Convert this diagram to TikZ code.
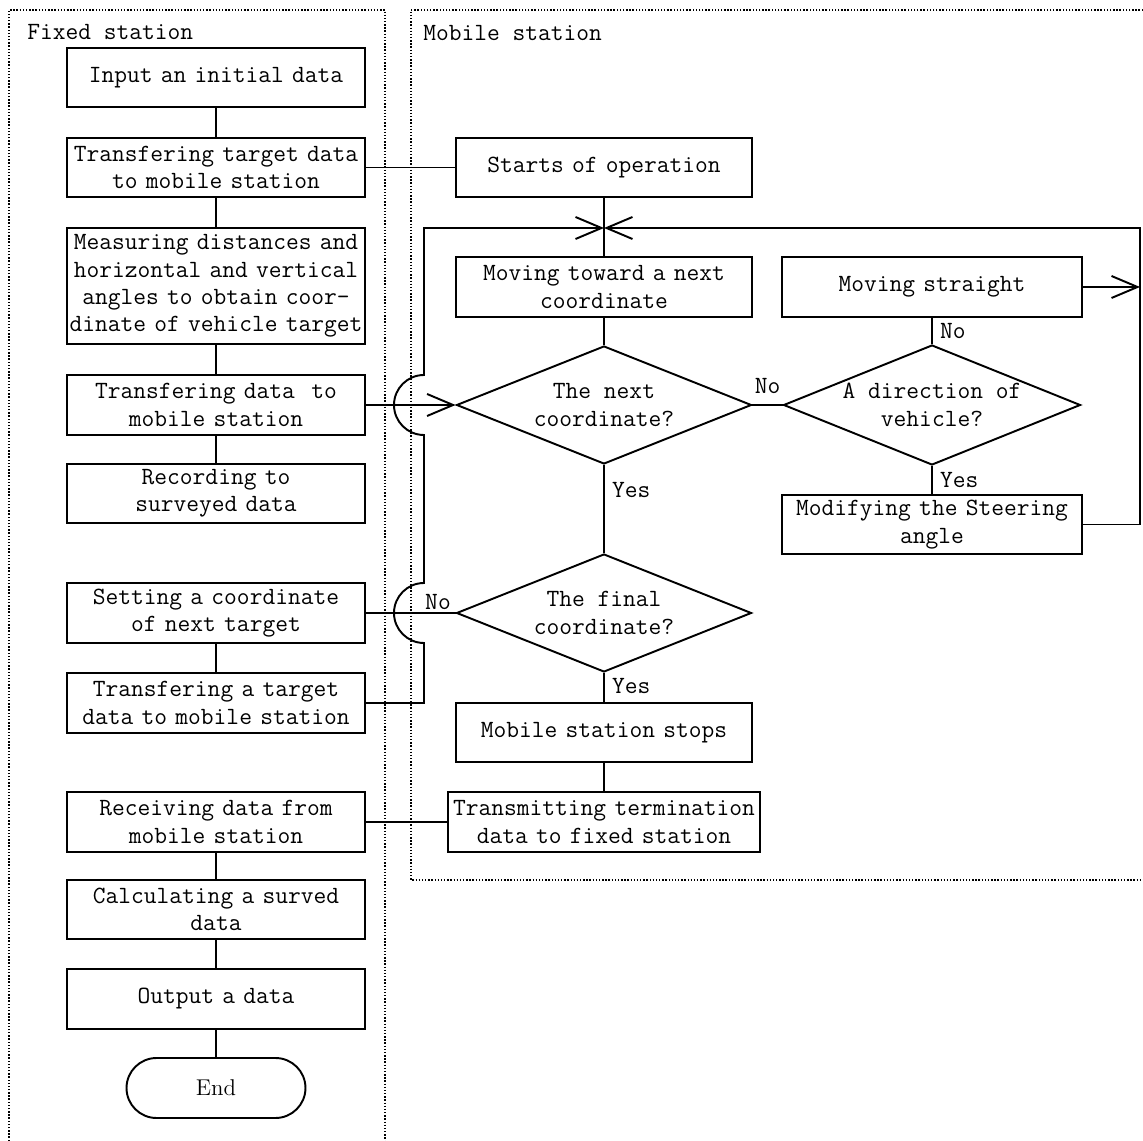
\documentclass[tikz,border=0pt]{standalone}
\usetikzlibrary{shapes.geometric,arrows.meta}
\newcommand{\flowfont}{\fontsize{14.1}{15.6}\selectfont\ttfamily}
\tikzset{
  stepbox/.style={draw, line width=1.1pt, rectangle, text width=5.96cm, minimum height=1.19cm,
    inner sep=0pt, align=center, font=\flowfont},
  decision/.style={draw, line width=1.1pt, diamond, aspect=2.5, minimum width=5.9cm,
    minimum height=2.36cm, inner sep=0pt, align=center, font=\flowfont},
  terminal/.style={draw, line width=1.1pt, rectangle, rounded corners=0.6cm, minimum width=3.58cm,
    minimum height=1.2cm, font=\fontsize{13}{15}\selectfont\rmfamily},
  link/.style={line width=1.1pt},
  barb/.style={-{Straight Barb[length=5.2mm, width=4.4mm]}},
  stationframe/.style={densely dotted, line width=0.8pt},
  answer/.style={font=\flowfont, inner sep=0pt},
  title/.style={font=\flowfont, anchor=west, inner sep=0pt},
}
\begin{document}
\begin{tikzpicture}[x=0.02cm, y=-0.02cm]
    \useasboundingbox (0,0) rectangle (1143,1141);

    % Frames of the two stations
    \draw[stationframe] (9,1141) -- (9,10) -- (385,10) -- (385,1141);
    \draw[stationframe] (1143,10) -- (411,10) -- (411,880) -- (1143,880);
    \node[title] (fixedlbl) at (27,32) {Fixed station};
    \node[title] (mobilelbl) at (423,33) {Mobile station};

    % Fixed station column
    \node[stepbox] (input) at (216,77.5) {Input an initial data};
    \node[stepbox] (xfer1) at (216,167.5) {Transfering target data\\to mobile station};
    \node[stepbox, minimum height=2.32cm] (measure) at (216,286)
        {Measuring distances and\\horizontal and vertical\\angles to obtain coor-\\dinate of vehicle target};
    \node[stepbox] (xfer2) at (216,405) {Transfering data\ \ to\\mobile station};
    \node[stepbox] (record) at (216,493.5) {Recording to\\surveyed data};
    \node[stepbox] (setting) at (216,613) {Setting a coordinate\\of next target};
    \node[stepbox] (xfer3) at (216,703) {Transfering a target\\data to mobile station};
    \node[stepbox] (receive) at (216,822) {Receiving data from\\mobile station};
    \node[stepbox] (calc) at (216,909.5) {Calculating a surved\\data};
    \node[stepbox] (output) at (216,999) {Output a data};
    \node[terminal] (finish) at (216,1088) {End};

    % Mobile station column
    \node[stepbox, text width=5.92cm] (starts) at (604,167.5) {Starts of operation};
    \node[stepbox, text width=5.92cm] (moving) at (604,287) {Moving toward a next\\coordinate};
    \node[decision] (next) at (604,405) {The next\\coordinate?};
    \node[decision] (final) at (604,613) {The final\\coordinate?};
    \node[stepbox, text width=5.92cm] (stops) at (604,732.5) {Mobile station stops};
    \node[stepbox, text width=6.24cm] (transmit) at (604,822) {Transmitting termination\\data to fixed station};

    % Steering branch
    \node[stepbox, text width=6cm] (straight) at (932,287) {Moving straight};
    \node[decision, minimum width=5.94cm, minimum height=2.4cm] (direction) at (932,405) {A direction of\\vehicle?};
    \node[stepbox, text width=6cm] (modify) at (932,524.5) {Modifying the Steering\\angle};

    % Loop corners
    \coordinate (ltop) at (424,228);
    \coordinate (rtop) at (1140,228);
    \coordinate (merge) at (604,228);

    % Fixed station links
    \draw[link] (input) -- (xfer1);
    \draw[link] (xfer1) -- (measure);
    \draw[link] (measure) -- (xfer2);
    \draw[link] (xfer2) -- (record);
    \draw[link] (setting) -- (xfer3);
    \draw[link] (receive) -- (calc);
    \draw[link] (calc) -- (output);
    \draw[link] (output) -- (finish);

    % Mobile station links
    \draw[link] (starts) -- (moving);
    \draw[link] (moving) -- (next);
    \draw[link] (next) -- node[answer, right=4pt, pos=0.28] (yes1) {Yes} (final);
    \draw[link] (final) -- node[answer, right=4pt, pos=0.45] (yes3) {Yes} (stops);
    \draw[link] (stops) -- (transmit);
    \draw[link] (next.east) -- node[answer, above=6pt] (no1) {No} (direction.west);
    \draw[link] (direction) -- node[answer, right=4pt] (no2) {No} (straight);
    \draw[link] (direction) -- node[answer, right=4pt] (yes2) {Yes} (modify);

    % Links between the stations
    \draw[link] (xfer1.east) -- (starts.west);
    \draw[link, barb] (xfer2.east) -- (next.west);
    \draw[link] (final.west) -- (setting.east);
    \node[answer] (no3) at (438,602) {No};
    \draw[link] (transmit.west) -- (receive.east);

    % Loop back from the fixed station, jumping over two links
    \draw[link, barb] (xfer3.east) -- (424,703) -- (424,643)
        arc[start angle=90, end angle=270, radius=30] -- (424,435)
        arc[start angle=90, end angle=270, radius=30] -- (ltop) -- (merge);

    % Loop back from the steering branch
    \draw[link, barb] (straight.east) -- (straight.east -| rtop);
    \draw[link, barb] (modify.east) -| (rtop) -- (merge);
\end{tikzpicture}
\end{document}
